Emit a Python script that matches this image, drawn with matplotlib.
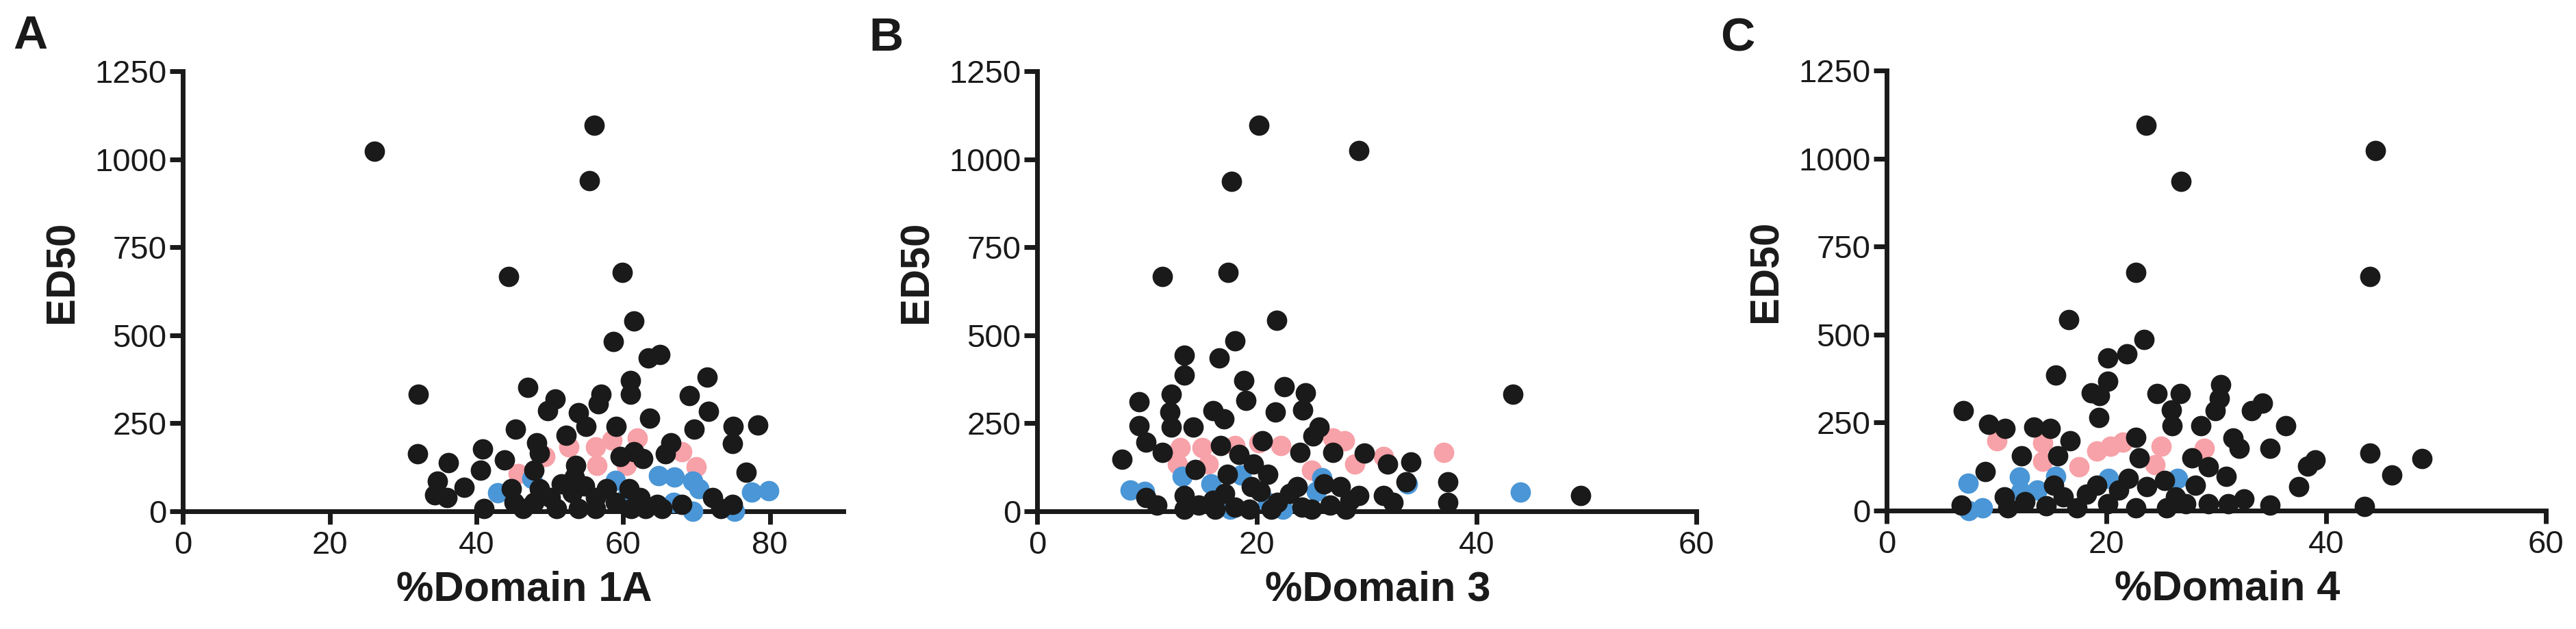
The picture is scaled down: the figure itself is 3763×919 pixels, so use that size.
import numpy as np
import matplotlib
matplotlib.use('Agg')
import matplotlib.pyplot as plt

# colours for the three groups
black = '#1a1a1a'
pink = '#f7a1a8'
blue = '#4a96d6'

#########################
# panel A: %Domain 1A   #
#########################
a_black_x = [26.1, 56.0, 55.4, 44.4, 59.9, 61.5, 58.7, 63.4, 65.0, 61.0, 61.0, 71.4, 69.0, 71.6,
             69.7, 75.0, 78.3, 74.9, 76.8, 32.1, 32.0, 36.2, 34.7, 34.3, 36.0, 38.3, 40.8, 40.6,
             43.8, 41.0, 45.3, 47.0, 48.2, 48.6, 49.7, 50.7, 52.2, 53.9, 54.9, 57.0, 56.6, 63.6,
             59.0, 66.5, 65.7, 61.5, 62.7, 59.6, 53.5, 53.3, 48.6, 50.1, 51.6, 53.1, 54.7, 56.2,
             57.7, 58.9, 50.9, 53.9, 56.2, 46.3, 44.8, 45.1, 47.8, 60.8, 62.3, 63.0, 64.6, 68.0,
             72.2, 73.3, 74.9, 65.3, 61.1, 47.8]
a_black_y = [1023, 1097, 938, 667, 678, 541, 482, 436, 446, 371, 332, 381, 329, 283,
             234, 241, 244, 192, 111, 332, 164, 137, 85, 46, 39, 68, 176, 117,
             146, 7, 234, 352, 195, 166, 286, 319, 215, 280, 241, 332, 306, 264,
             241, 195, 163, 169, 150, 156, 130, 98, 65, 39, 78, 52, 72, 39,
             65, 26, 7, 7, 7, 7, 65, 26, 26, 65, 39, 7, 20, 20,
             39, 7, 20, 7, 7, 117]
a_pink_x = [45.7, 49.3, 52.6, 56.2, 58.5, 56.4, 60.4, 61.9, 68.0, 69.9]
a_pink_y = [107, 156, 182, 182, 202, 130, 130, 208, 169, 127]
a_blue_x = [42.9, 47.6, 58.9, 60.4, 64.8, 67.0, 69.5, 70.3, 66.9, 69.5, 75.2, 77.5, 79.8]
a_blue_y = [52, 94, 88, 39, 101, 98, 85, 65, 26, 0, 0, 55, 59]

#########################
# panel B: %Domain 3    #
#########################
b_black_x = [20.2, 29.3, 17.7, 11.4, 17.4, 21.8, 43.3, 49.5, 18.0, 13.4, 16.6, 13.4, 18.8, 19.0,
             22.5, 24.4, 24.2, 21.7, 9.3, 12.2, 12.1, 12.2, 9.3, 9.9, 11.4, 7.7, 14.2, 16.0,
             17.0, 16.7, 20.5, 23.9, 25.7, 25.1, 26.9, 29.8, 31.9, 34.0, 33.6, 37.4, 37.4, 14.4,
             17.3, 18.4, 19.7, 21.0, 20.3, 19.5, 9.9, 10.9, 13.4, 13.4, 14.7, 16.0, 17.1, 18.0,
             19.3, 21.9, 23.0, 23.7, 24.1, 25.0, 26.1, 27.6, 28.5, 29.3, 28.1, 31.5, 32.4, 26.7,
             21.3, 16.2]
b_black_y = [1097, 1025, 937, 667, 678, 542, 333, 45, 484, 444, 435, 386, 371, 314,
             353, 337, 288, 282, 311, 333, 281, 240, 243, 197, 168, 148, 239, 285,
             262, 187, 200, 168, 240, 213, 168, 165, 135, 139, 83, 83, 25, 118,
             105, 161, 135, 105, 57, 70, 38, 18, 44, 5, 18, 31, 51, 12,
             5, 25, 51, 70, 12, 5, 77, 70, 31, 44, 5, 44, 25, 18,
             5, 5]
b_pink_x = [13.0, 12.8, 15.0, 15.6, 18.0, 20.2, 22.2, 26.9, 28.0, 28.9, 31.5, 25.0, 37.0]
b_pink_y = [181, 135, 181, 135, 187, 194, 187, 207, 200, 135, 155, 116, 168]
b_blue_x = [8.5, 9.8, 13.2, 15.8, 18.6, 17.6, 21.0, 22.4, 25.4, 25.9, 33.7, 44.0]
b_blue_y = [61, 57, 100, 77, 103, 5, 25, 5, 57, 96, 77, 55]

#########################
# panel C: %Domain 4    #
#########################
c_black_x = [23.6, 44.5, 26.8, 22.7, 44.0, 16.6, 48.7, 46.0, 44.0, 43.5, 23.4, 20.1, 21.9, 15.4,
             20.1, 18.6, 19.4, 19.3, 24.6, 26.7, 25.9, 26.0, 30.4, 30.3, 29.9, 28.6, 34.2, 33.2,
             36.3, 31.5, 32.1, 34.9, 39.0, 38.3, 37.5, 34.9, 7.0, 9.3, 10.8, 13.4, 14.9, 16.7,
             15.6, 12.3, 9.0, 6.8, 10.7, 12.6, 11.0, 15.2, 16.1, 17.3, 18.2, 19.1, 20.1, 21.1,
             22.0, 22.7, 23.0, 23.7, 22.7, 25.3, 25.5, 26.3, 27.8, 28.1, 29.3, 29.3, 30.9, 31.1,
             32.5, 27.2, 14.5]
c_black_y = [1095, 1022, 934, 676, 664, 542, 147, 101, 164, 11, 485, 433, 446, 384,
             368, 335, 326, 264, 332, 332, 286, 241, 358, 319, 283, 241, 306, 283,
             241, 205, 176, 176, 143, 127, 68, 16, 283, 244, 234, 237, 234, 198,
             156, 156, 111, 16, 39, 26, 7, 72, 39, 7, 46, 72, 20, 59,
             91, 208, 150, 68, 7, 85, 7, 39, 150, 72, 124, 20, 98, 20,
             33, 20, 13]
c_pink_x = [10.0, 14.2, 14.2, 17.5, 19.1, 20.4, 21.5, 25.0, 24.4, 28.9]
c_pink_y = [198, 192, 140, 124, 169, 182, 195, 182, 130, 176]
c_blue_x = [7.4, 8.7, 7.5, 12.1, 12.2, 13.7, 15.4, 20.2, 26.5]
c_blue_y = [78, 7, 0, 95, 55, 59, 98, 91, 91]

y_ticks = [0, 250, 500, 750, 1000, 1250]

plt.rcParams['font.family'] = ['Liberation Sans', 'DejaVu Sans']

fig = plt.figure(figsize=(37.63, 9.19), dpi=100)

boxes = [[0.0710, 0.1872, 0.2564, 0.6997],
         [0.4026, 0.1872, 0.2559, 0.6997],
         [0.7324, 0.1883, 0.2559, 0.6997]]


def draw_panel(ax, bx, by, px, py, lx, ly, xmax, xticks, xlabel):
    ms = 460
    ax.scatter(px, py, s=ms, color=pink, linewidths=0, clip_on=False, zorder=3)
    ax.scatter(lx, ly, s=ms, color=blue, linewidths=0, clip_on=False, zorder=3)
    ax.scatter(bx, by, s=ms, color=black, linewidths=0, clip_on=False, zorder=4)
    ax.set_xlim(0, xmax)
    ax.set_ylim(0, 1250)
    ax.set_xticks(xticks)
    ax.set_yticks(y_ticks)
    for side in ['top', 'right']:
        ax.spines[side].set_visible(False)
    for side in ['left', 'bottom']:
        ax.spines[side].set_linewidth(5)
        ax.spines[side].set_color(black)
    ax.tick_params(axis='both', direction='out', length=14, width=5, color=black,
                   labelsize=34, labelcolor=black)
    ax.tick_params(axis='x', pad=6)
    ax.tick_params(axis='y', pad=3)
    ax.set_xlabel(xlabel, fontsize=44, fontweight='bold', color=black)
    ax.set_ylabel('ED50', fontsize=43, fontweight='bold', color=black)
    ax.xaxis.set_label_coords(0.517, -0.135)
    ax.yaxis.set_label_coords(-0.154, 0.544)


ax1 = fig.add_axes(boxes[0])
draw_panel(ax1, a_black_x, a_black_y, a_pink_x, a_pink_y, a_blue_x, a_blue_y,
           90, [0, 20, 40, 60, 80], '%Domain 1A')
ax2 = fig.add_axes(boxes[1])
draw_panel(ax2, b_black_x, b_black_y, b_pink_x, b_pink_y, b_blue_x, b_blue_y,
           60, [0, 20, 40, 60], '%Domain 3')
ax3 = fig.add_axes(boxes[2])
draw_panel(ax3, c_black_x, c_black_y, c_pink_x, c_pink_y, c_blue_x, c_blue_y,
           60, [0, 20, 40, 60], '%Domain 4')

# panel letters
fig.text(0.0117, 0.942, 'A', fontsize=50, fontweight='bold', ha='center', va='center', color=black)
fig.text(0.3439, 0.939, 'B', fontsize=50, fontweight='bold', ha='center', va='center', color=black)
fig.text(0.6744, 0.939, 'C', fontsize=50, fontweight='bold', ha='center', va='center', color=black)

fig.savefig('out.png', dpi=100)
